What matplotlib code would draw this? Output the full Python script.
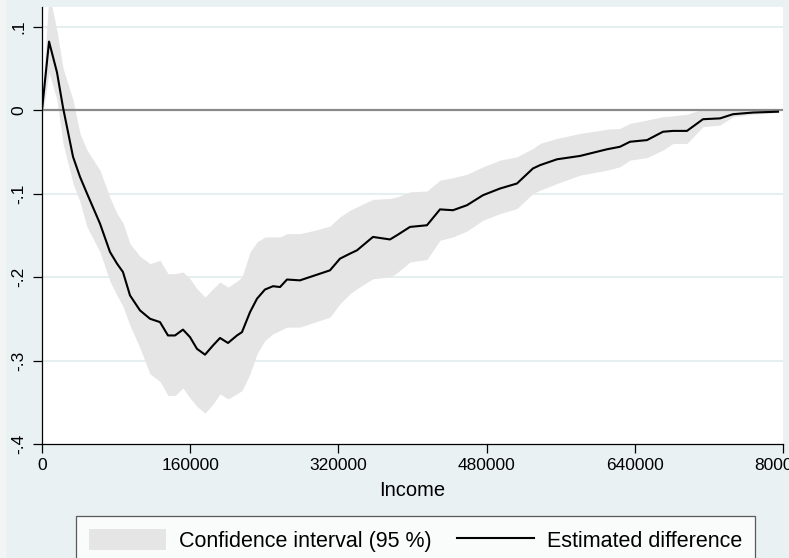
import numpy as np
import matplotlib
matplotlib.use("Agg")
import matplotlib.pyplot as plt
from matplotlib.patches import Patch, Rectangle
from matplotlib.lines import Line2D

plt.rcParams['font.family'] = ['Liberation Sans', 'DejaVu Sans']

# income grid and estimates
income = [0, 7600, 16200, 22700, 33500, 41000, 48600, 62600, 73400, 81000,
          87400, 95000, 105800, 116600, 127400, 136000, 143600, 152200, 159800, 167300,
          176000, 184600, 192200, 200800, 210500, 215900, 224600, 232100, 240700, 249400,
          257000, 264500, 278500, 294700, 310900, 321700, 332500, 340100, 357300, 375700,
          383200, 397300, 415600, 429700, 443700, 458800, 476100, 494500, 512800, 530000,
          537700, 556000, 580800, 610000, 624000, 634800, 653200, 670400, 681200, 696300,
          713600, 732000, 746000, 767600, 794600]
estimate = [0.0, 0.082, 0.045, 0.003, -0.056, -0.08, -0.1, -0.136, -0.17, -0.184,
            -0.194, -0.222, -0.24, -0.25, -0.254, -0.27, -0.27, -0.263, -0.272, -0.286,
            -0.293, -0.282, -0.273, -0.279, -0.27, -0.266, -0.242, -0.226, -0.215, -0.211,
            -0.212, -0.203, -0.204, -0.198, -0.192, -0.178, -0.172, -0.168, -0.152, -0.155,
            -0.15, -0.14, -0.138, -0.119, -0.12, -0.114, -0.102, -0.094, -0.088, -0.07,
            -0.066, -0.059, -0.055, -0.047, -0.044, -0.038, -0.036, -0.026, -0.025, -0.025,
            -0.011, -0.01, -0.005, -0.003, -0.002]
ci_low = [-0.01, 0.045, 0.012, -0.04, -0.088, -0.11, -0.14, -0.17, -0.205, -0.222,
          -0.235, -0.258, -0.285, -0.316, -0.325, -0.342, -0.342, -0.333, -0.345, -0.355,
          -0.363, -0.352, -0.34, -0.346, -0.34, -0.336, -0.316, -0.292, -0.276, -0.268,
          -0.264, -0.26, -0.26, -0.254, -0.248, -0.232, -0.22, -0.214, -0.202, -0.2,
          -0.195, -0.182, -0.179, -0.156, -0.152, -0.145, -0.132, -0.124, -0.118, -0.1,
          -0.096, -0.088, -0.078, -0.072, -0.068, -0.06, -0.057, -0.048, -0.04, -0.04,
          -0.02, -0.018, -0.008, -0.005, -0.003]
ci_high = [0.01, 0.14, 0.095, 0.05, 0.012, -0.028, -0.048, -0.072, -0.105, -0.124,
           -0.135, -0.16, -0.175, -0.184, -0.18, -0.196, -0.196, -0.194, -0.202, -0.214,
           -0.224, -0.214, -0.206, -0.212, -0.205, -0.2, -0.17, -0.158, -0.152, -0.152,
           -0.152, -0.148, -0.148, -0.144, -0.139, -0.128, -0.12, -0.116, -0.107, -0.106,
           -0.104, -0.098, -0.097, -0.084, -0.081, -0.077, -0.068, -0.06, -0.056, -0.046,
           -0.04, -0.034, -0.028, -0.023, -0.022, -0.016, -0.012, -0.008, -0.007, -0.005,
           0.001, 0.001, 0.001, 0.0, -0.001]

xticks = [0, 160000, 320000, 480000, 640000, 800000]
xticklabels = ['0', '160000', '320000', '480000', '640000', '800000']
yticks = [-0.4, -0.3, -0.2, -0.1, 0.0, 0.1]
yticklabels = ['-.4', '-.3', '-.2', '-.1', '0', '.1']

bg = '#e9f1f3'
fig = plt.figure(figsize=(7.89, 5.58), dpi=100, facecolor=bg)
# light strip on the left edge
fig.patches.append(Rectangle((0, 0), 6 / 789, 1, transform=fig.transFigure,
                             facecolor='#f3f4f4', edgecolor='none', zorder=0))

ax = fig.add_axes([42 / 789, 1 - 444 / 558, 741 / 789, 437 / 558])
ax.set_facecolor('white')

ax.set_xlim(0, 800000)
ax.set_ylim(-0.4, 0.1234)

for t in yticks[1:]:
    ax.axhline(t, color='#e2ecee', lw=1.2, zorder=1)

ax.fill_between(income, ci_low, ci_high, color='#e5e5e5', lw=0, zorder=2)
ax.axhline(0, color='#8a8a8a', lw=1.6, zorder=3)
ax.plot(income, estimate, color='black', lw=1.5, zorder=4)

for s in ['top', 'right']:
    ax.spines[s].set_visible(False)
for s in ['left', 'bottom']:
    ax.spines[s].set_color('black')
    ax.spines[s].set_linewidth(0.9)

ax.set_xticks(xticks)
ax.set_xticklabels(xticklabels)
ax.set_yticks(yticks)
ax.set_yticklabels(yticklabels, rotation=90, va='center')
ax.tick_params(axis='both', direction='out', length=6.5, width=0.9, labelsize=12.5,
               colors='black')
ax.tick_params(axis='x', pad=3.5)
ax.tick_params(axis='y', pad=5)
ax.set_xlabel('Income', fontsize=14.5, labelpad=6)

handles = [Patch(facecolor='#e5e5e5', edgecolor='none'),
           Line2D([], [], color='black', lw=1.5)]
labels = ['Confidence interval (95 %)', 'Estimated difference']
leg = fig.legend(handles, labels, ncol=2, loc='upper left',
                 bbox_to_anchor=(76 / 789, 1 - 516 / 558), fontsize=15.5,
                 frameon=True, fancybox=False, edgecolor='#333333',
                 handlelength=3.6, handleheight=1.1, handletextpad=0.6,
                 columnspacing=1.15, borderpad=0.6, borderaxespad=0)
leg.get_frame().set_linewidth(0.9)

fig.savefig('out.png', dpi=100, facecolor=bg)
